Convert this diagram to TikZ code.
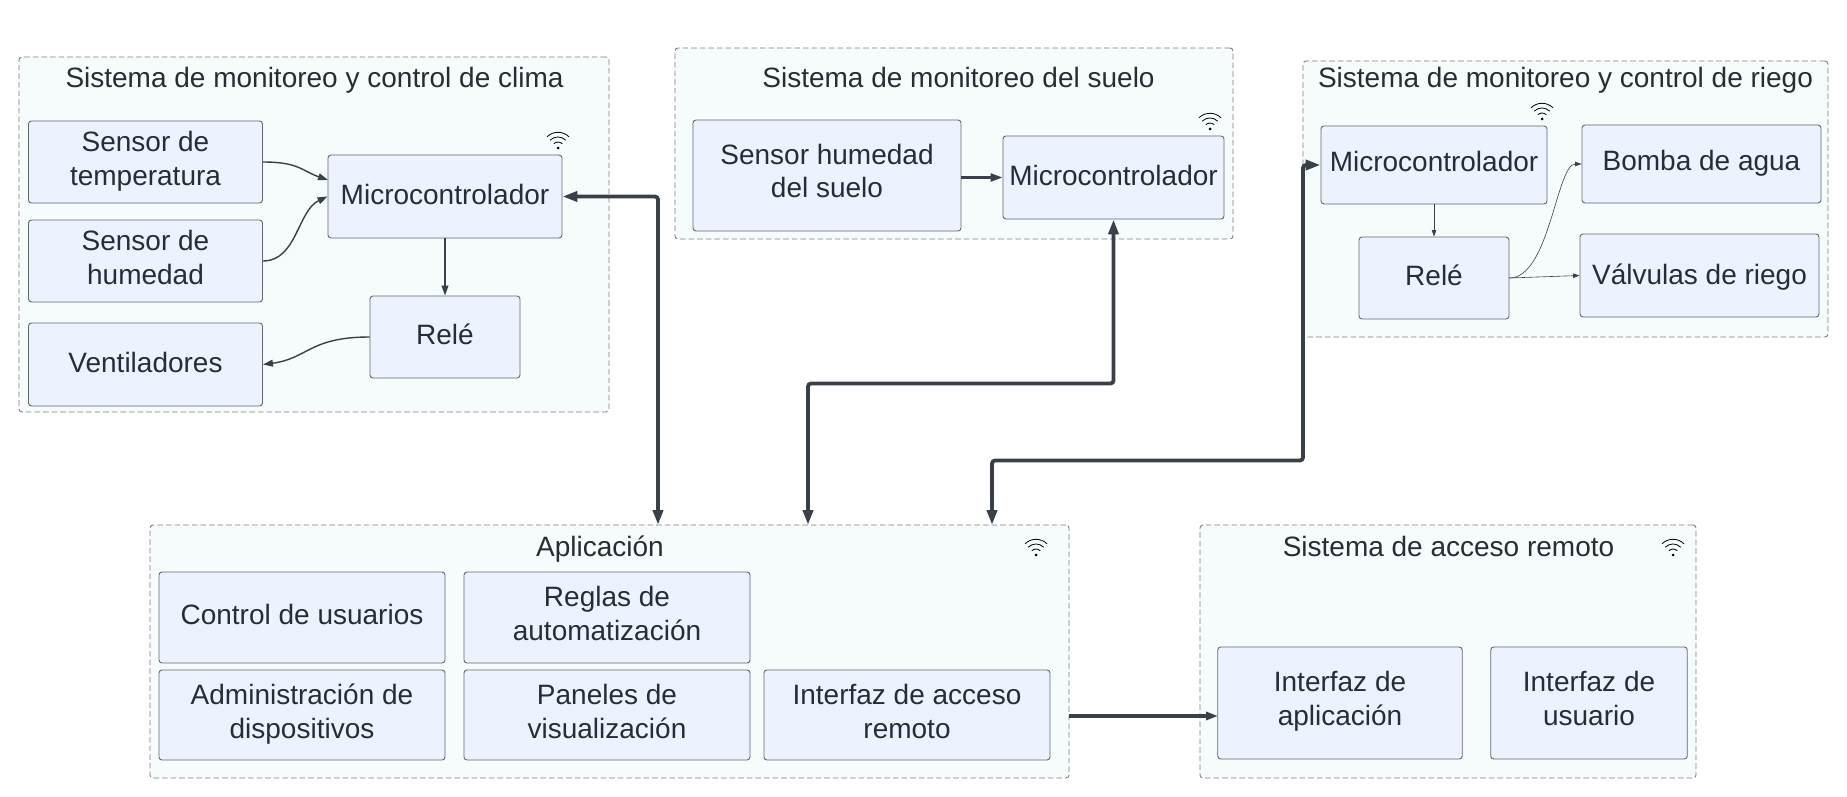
\documentclass[tikz,border=0pt]{standalone}
\usepackage{fontspec}
\setmainfont{Liberation Sans}
\usetikzlibrary{arrows.meta}

\definecolor{boxfill}{RGB}{236,243,254}
\definecolor{boxline}{RGB}{100,104,110}
\definecolor{groupfill}{RGB}{246,251,252}
\definecolor{groupline}{RGB}{125,126,129}
\definecolor{inktext}{RGB}{40,45,53}
\definecolor{inkline}{RGB}{58,64,74}

\tikzset{
  boxsize/.style 2 args={minimum width=#1*0.5pt, minimum height=#2*0.5pt},
  baseat/.style={text height=#1pt, text depth=0pt},
  boxnode/.style={draw=boxline, fill=boxfill, line width=0.45pt, rounded corners=1.5pt,
    inner sep=0pt, align=center, text=inktext, font=\fontsize{14}{16.8}\selectfont},
  groupnode/.style={draw=groupline, fill=groupfill, line width=0.45pt, rounded corners=1.5pt,
    dash pattern=on 2.8pt off 1.5pt, inner sep=0pt},
  titlenode/.style={anchor=base, inner sep=0pt, text=inktext, font=\fontsize{14}{16.8}\selectfont},
  linkthin/.style={draw=inkline, line width=0.7pt, -{Triangle[length=5pt,width=3.4pt]}},
  linkfine/.style={draw=inkline, line width=0.3pt, -{Triangle[length=3.2pt,width=2.2pt]}},
  linkmid/.style={draw=inkline, line width=1.2pt, -{Triangle[length=6pt,width=4pt]}},
  linkthick/.style={draw=inkline, line width=1.9pt, rounded corners=1.5pt,
    {Triangle[length=7.5pt,width=5pt]}-{Triangle[length=7.5pt,width=5pt]}},
  wifi/.pic={
    \fill[black] (0,0) circle (1.5);
    \draw[black, line width=0.4pt] (-4.2,-4.2) arc[start angle=-135, end angle=-45, radius=6];
    \draw[black, line width=0.4pt] (-7.8,-7.8) arc[start angle=-135, end angle=-45, radius=11];
    \draw[black, line width=0.4pt] (-11.1,-11.1) arc[start angle=-135, end angle=-45, radius=15.7];
  }
}

\begin{document}
\begin{tikzpicture}[x=0.5pt, y=-0.5pt]

  \useasboundingbox (0,0) rectangle (1847,797);

  \node[groupnode, boxsize={590}{355}] (climagroup) at (314,234.5) {};
  \node[titlenode] (climatitle) at (314.5,87.3) {Sistema de monitoreo y control de clima};
  \node[boxnode, boxsize={234}{82}, baseat=23.5] (tempsensor) at (145.5,162) {Sensor de\\temperatura};
  \node[boxnode, boxsize={234}{82}, baseat=23.5] (humsensor) at (145.5,261) {Sensor de\\humedad};
  \node[boxnode, boxsize={234}{83}, baseat=7.5] (ventilador) at (145.5,364.5) {Ventiladores};
  \node[boxnode, boxsize={234}{83}, baseat=7.5] (climamicro) at (445,196.5) {Microcontrolador};
  \node[boxnode, boxsize={150}{82}, baseat=7.5] (climarele) at (445,337) {Relé};
  \pic at (558,148) {wifi};

  \node[groupnode, boxsize={558}{191}] (suelogroup) at (954,143.5) {};
  \node[titlenode] (suelotitle) at (958.5,87.3) {Sistema de monitoreo del suelo};
  \node[boxnode, boxsize={268}{111}, baseat=22.5] (suelosensor) at (827,175.5) {Sensor humedad\\del suelo};
  \node[boxnode, boxsize={221}{83}, baseat=8] (suelomicro) at (1113.5,177.5) {Microcontrolador};
  \pic at (1210,129) {wifi};

  \node[groupnode, boxsize={525}{276}] (riegogroup) at (1565.5,199) {};
  \node[titlenode] (riegotitle) at (1565.5,87.3) {Sistema de monitoreo y control de riego};
  \node[boxnode, boxsize={226}{78}, baseat=6.5] (riegomicro) at (1434,165) {Microcontrolador};
  \node[boxnode, boxsize={150}{82}, baseat=7.5] (riegorele) at (1434,278) {Relé};
  \node[boxnode, boxsize={239}{78}, baseat=6.5] (bomba) at (1701.5,164) {Bomba de agua};
  \node[boxnode, boxsize={239}{83}, baseat=8.5] (valvulas) at (1699.5,275.5) {Válvulas de riego};
  \pic at (1542,119) {wifi};

  \node[groupnode, boxsize={919}{253}] (appgroup) at (609.5,651.5) {};
  \node[titlenode] (apptitle) at (600,556.7) {Aplicación};
  \node[boxnode, boxsize={286}{91}, baseat=6.5] (usuarios) at (302,617.5) {Control de usuarios};
  \node[boxnode, boxsize={286}{91}, baseat=23] (reglas) at (607,617.5) {Reglas de\\automatización};
  \node[boxnode, boxsize={286}{90}, baseat=23] (dispositivos) at (302,715) {Administración de\\dispositivos};
  \node[boxnode, boxsize={286}{90}, baseat=23] (paneles) at (607,715) {Paneles de\\visualización};
  \node[boxnode, boxsize={286}{90}, baseat=23] (acceso) at (907,715) {Interfaz de acceso\\remoto};
  \pic at (1036,555) {wifi};

  \node[groupnode, boxsize={496}{253}] (remotogroup) at (1448,651.5) {};
  \node[titlenode] (remototitle) at (1448.5,556.7) {Sistema de acceso remoto};
  \node[boxnode, boxsize={244.5}{112}, baseat=22.5] (interapp) at (1340,703) {Interfaz de\\aplicación};
  \node[boxnode, boxsize={196.5}{112}, baseat=22.5] (interuser) at (1589,703) {Interfaz de\\usuario};
  \pic at (1673,555) {wifi};

  \coordinate (tempin) at (328,180);
  \coordinate (apptopa) at (658,525);
  \coordinate (apptopb) at (808,525);
  \coordinate (apptopc) at (992,525);
  \coordinate (sueloturn) at (808,383.5);
  \coordinate (riegoturn) at (992,460.5);
  \coordinate (riegobend) at (1303,460.5);
  \coordinate (appout) at (1069,716);
  \coordinate (remotoin) at (1218,716);

  \draw[linkthin] (tempsensor.east) .. controls +(36,0) and +(-26,-9) .. (tempin);
  \draw[linkthin] (humsensor.east) .. controls +(34,0) and +(-30,14) .. (climamicro.west);
  \draw[linkthin] (climamicro.south) -- (climarele.north);
  \draw[linkthin] (climarele.west) .. controls +(-60,0) and +(45,-6) .. (ventilador.east);

  \draw[linkmid] (suelosensor.east |- suelomicro.west) -- (suelomicro.west);

  \draw[linkfine] (riegomicro.south) -- (riegorele.north);
  \draw[linkfine] (riegorele.east) .. controls +(40,0) and +(-25,0) .. (bomba.west);
  \draw[linkfine] (riegorele.east) -- (valvulas.west);

  \draw[linkthick] (climamicro.east) -| (apptopa);
  \draw[linkthick] (suelomicro.south) |- (sueloturn) -- (apptopb);
  \draw[linkthick] (riegomicro.west) -| (riegobend) -- (riegoturn) -- (apptopc);
  \draw[linkmid, line width=1.9pt] (appout) -- (remotoin);

\end{tikzpicture}
\end{document}
